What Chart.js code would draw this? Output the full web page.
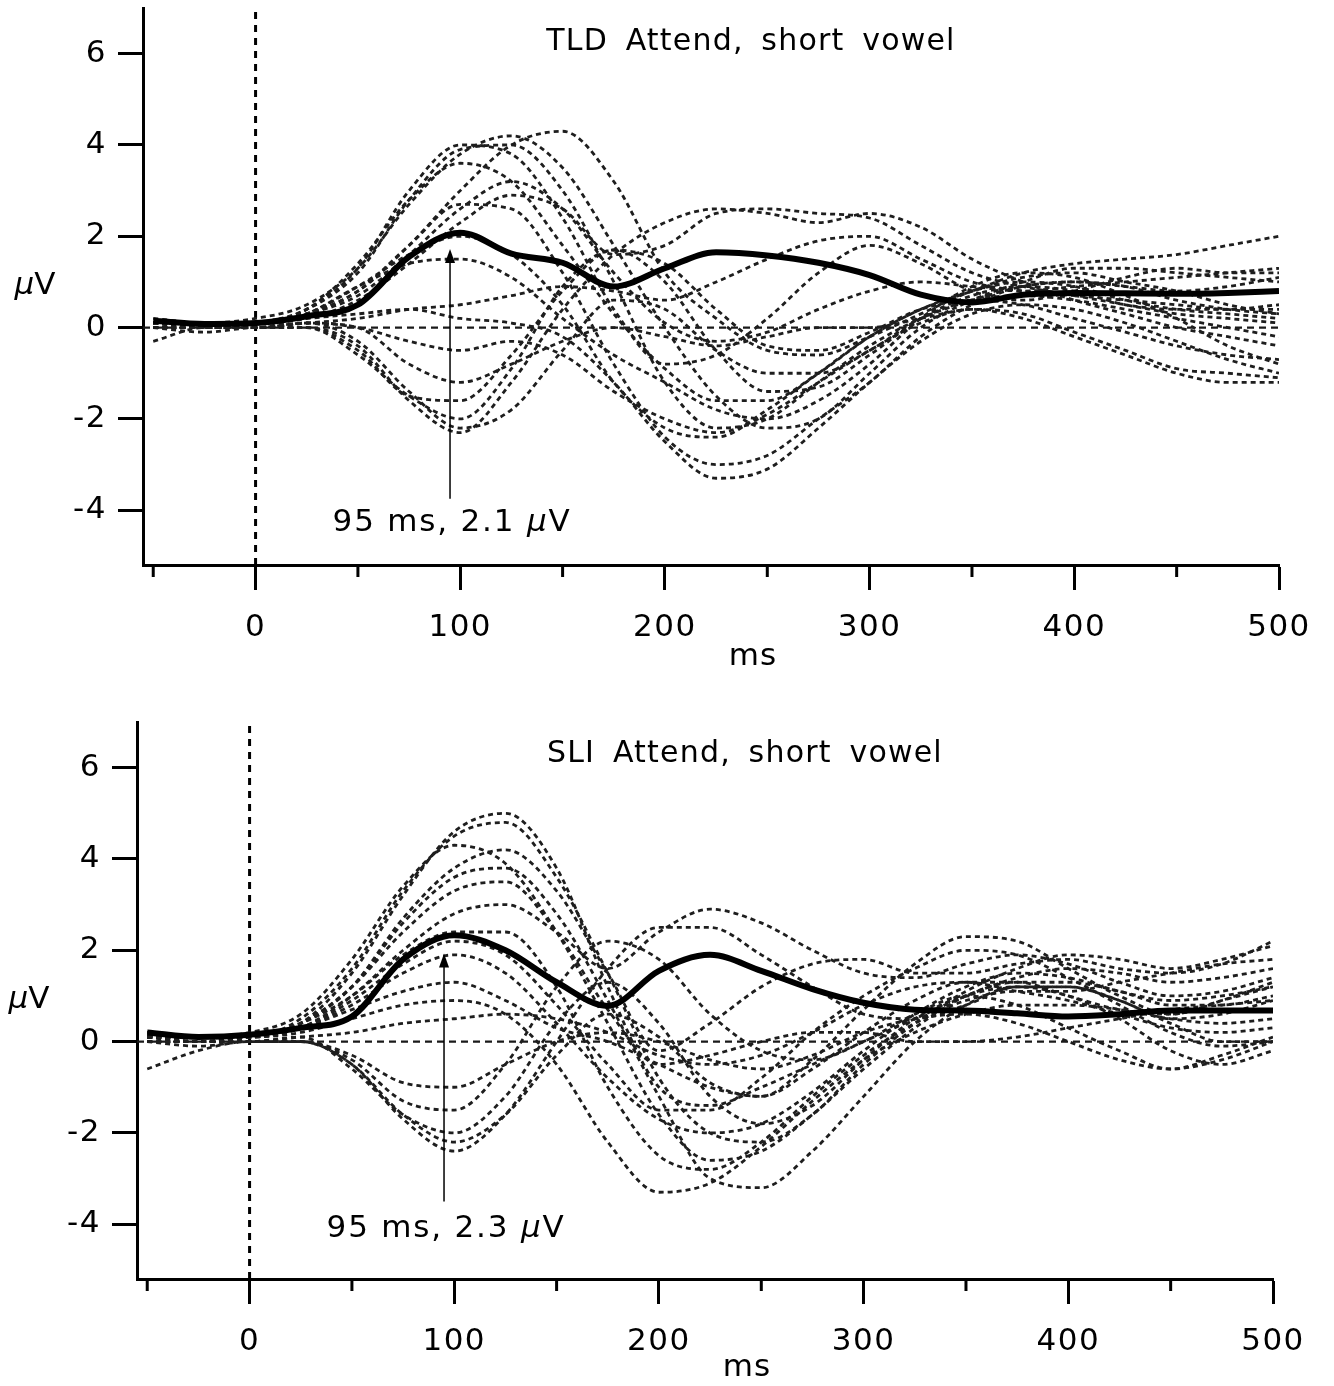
<!DOCTYPE html>
<html><head><meta charset="utf-8">
<script src="https://cdn.jsdelivr.net/npm/chart.js@4"></script>
<style>
html,body{margin:0;padding:0;background:#fff;}
#wrap{position:relative;width:1334px;height:1386px;overflow:hidden;}
canvas{position:absolute;left:0;}
</style></head><body>
<div id="wrap">
<canvas id="c1" width="1334" height="693" style="top:0px"></canvas>
<canvas id="c2" width="1334" height="672" style="top:714px"></canvas>
</div>
<script>
// ---- data ----
const times = [-50,-25,0,25,50,75,100,125,150,175,200,225,250,275,300,325,350,375,400,425,450,475,500];
const xTickValues = [-50,0,50,100,150,200,250,300,350,400,450,500];
const xLabelValues = [0,100,200,300,400,500];
const yTickValues = [-4,-2,0,2,4,6];

const tldMean = [0.15,0.08,0.1,0.25,0.5,1.55,2.08,1.62,1.42,0.9,1.3,1.65,1.58,1.42,1.15,0.72,0.55,0.72,0.76,0.75,0.74,0.76,0.8];
const tldSubjects = [
 [0.1,0.05,0.1,0.4,1.2,2.8,3.9,4.0,3.0,1.0,-1.2,-2.2,-2.0,-1.2,-0.4,0.2,0.6,0.9,1.0,0.9,0.6,0.4,0.3],
 [0.2,0.1,0.1,0.3,0.8,1.8,3.0,4.0,4.3,3.2,1.2,0.2,-0.5,-0.6,-0.2,0.3,0.8,1.1,1.2,1.0,0.8,0.5,0.3],
 [0.1,0.1,0.2,0.5,1.3,2.7,3.8,4.2,3.5,1.8,0.0,-1.5,-2.2,-2.0,-1.0,0.0,0.6,1.0,1.3,1.3,1.2,1.1,1.0],
 [0.0,0.0,0.1,0.4,1.4,2.8,3.6,3.2,1.8,0.3,-0.9,-1.6,-1.6,-1.0,-0.2,0.4,0.8,1.2,1.4,1.5,1.6,1.8,2.0],
 [0.1,0.0,0.1,0.2,0.6,1.4,2.3,2.9,2.6,1.6,1.8,2.5,2.6,2.5,2.4,1.8,1.2,0.9,0.7,0.5,0.3,0.2,0.1],
 [0.0,-0.1,0.0,0.0,-0.4,-1.6,-2.3,-1.2,0.4,1.6,2.3,2.6,2.5,2.3,2.5,2.2,1.5,1.0,0.6,0.3,0.0,-0.2,-0.4],
 [0.0,0.0,0.0,0.1,-0.3,-1.4,-2.2,-1.8,-0.5,0.6,0.4,-0.5,-1.0,-1.0,-0.5,0.2,0.6,0.7,0.6,0.4,0.2,0.0,-0.2],
 [0.1,0.0,0.0,0.0,-0.5,-1.5,-1.6,-0.6,0.8,1.7,1.4,0.4,-0.4,-0.5,-0.1,0.4,0.6,0.5,0.2,-0.1,-0.4,-0.6,-0.7],
 [0.1,0.0,0.1,0.2,0.3,0.4,0.2,0.1,-0.2,-1.2,-2.5,-3.3,-3.1,-2.2,-1.2,-0.3,0.3,0.5,0.4,0.1,-0.3,-0.7,-1.0],
 [0.1,0.1,0.1,0.3,0.8,1.8,2.7,2.6,1.2,-0.8,-2.4,-3.0,-2.8,-2.0,-1.2,-0.2,0.5,0.9,1.0,0.9,0.8,0.9,1.1],
 [0.0,0.0,0.1,0.3,0.9,1.6,2.0,1.6,0.5,-1.2,-2.2,-2.4,-1.8,-1.0,-0.2,0.4,0.8,1.0,0.9,0.6,0.4,0.3,0.2],
 [0.1,0.0,0.0,0.3,0.9,1.4,1.5,1.1,0.2,-0.6,-1.2,-1.8,-2.0,-1.6,-0.8,0.2,0.9,1.2,1.1,0.7,0.2,-0.4,-0.8],
 [0.1,0.1,0.1,0.3,0.7,1.6,2.6,3.2,2.6,1.2,0.1,-0.3,-0.1,0.4,0.8,1.0,0.9,0.8,0.9,1.0,1.1,1.2,1.3],
 [-0.3,0.0,0.0,0.1,0.0,-0.8,-1.2,-0.8,-0.3,0.0,-0.2,-0.4,-0.2,0.0,0.0,0.2,0.4,0.2,-0.2,-0.6,-1.0,-1.2,-1.2],
 [0.0,0.0,0.0,0.0,-0.6,-1.5,-2.0,-0.9,0.9,1.7,1.0,-0.5,-1.4,-1.3,-0.6,0.2,0.7,0.9,0.8,0.5,0.4,0.4,0.5],
 [0.1,0.1,0.1,0.4,1.3,3.0,4.0,3.8,2.4,0.4,-0.8,-0.6,0.2,1.2,1.8,1.4,0.8,0.6,0.8,1.1,1.3,1.2,1.2],
 [0.0,0.0,0.0,0.1,0.2,0.4,0.5,0.7,0.9,0.8,0.6,1.0,1.5,1.9,2.0,1.5,1.0,0.8,0.7,0.6,0.5,0.4,0.4],
 [0.0,0.0,0.0,0.1,0.0,-0.3,-0.5,-0.3,-0.6,-1.4,-2.0,-2.3,-1.9,-1.2,-0.5,0.1,0.4,0.3,-0.1,-0.5,-0.9,-1.0,-1.1]
];

const sliMean = [0.2,0.1,0.15,0.3,0.55,1.8,2.33,2.0,1.3,0.78,1.55,1.9,1.55,1.15,0.85,0.7,0.68,0.62,0.55,0.6,0.68,0.68,0.68];
const sliSubjects = [
 [0.1,0.1,0.1,0.4,1.5,3.2,4.6,5.0,3.8,1.2,-1.0,-1.4,-1.0,-0.5,0.0,0.5,1.0,1.4,1.6,1.5,1.3,1.4,1.6],
 [0.2,0.1,0.1,0.5,1.6,3.3,4.5,4.8,3.6,1.5,-0.8,-2.0,-2.2,-1.6,-0.5,0.4,1.1,1.6,1.9,1.8,1.6,1.8,2.1],
 [0.1,0.1,0.2,0.6,1.8,3.4,4.3,3.9,2.4,0.4,-1.6,-2.6,-2.4,-1.6,-0.6,0.3,1.0,1.3,1.3,1.1,0.8,0.8,1.0],
 [0.1,0.0,0.1,0.4,1.2,2.6,3.6,3.8,2.8,0.9,-1.2,-3.0,-3.2,-2.4,-1.2,0.0,0.8,1.2,1.2,0.9,0.4,0.0,0.0],
 [0.1,0.1,0.1,0.3,1.0,2.0,2.8,3.0,2.4,1.6,2.4,2.9,2.6,2.0,1.5,1.4,1.7,1.9,1.7,1.3,1.0,1.1,1.4],
 [0.0,0.0,0.0,0.0,-0.5,-1.7,-2.4,-1.6,0.0,1.6,2.5,2.5,1.9,1.2,0.6,0.5,0.8,1.2,1.2,0.9,0.5,0.6,0.9],
 [0.0,0.0,0.0,0.1,-0.6,-1.6,-2.0,-1.2,0.4,1.3,0.4,-1.2,-1.8,-1.4,-0.4,0.5,1.0,1.2,1.0,0.5,-0.2,-0.5,-0.2],
 [0.0,0.0,0.0,0.0,-0.4,-1.3,-1.5,-0.5,1.2,2.2,1.8,0.6,-0.2,-0.4,0.0,0.6,1.0,0.8,0.3,-0.2,-0.6,-0.4,0.0],
 [0.1,0.1,0.1,0.2,0.5,0.8,0.9,0.6,-0.5,-2.2,-3.3,-3.1,-2.3,-1.3,-0.4,0.2,0.6,0.8,0.8,0.7,0.5,0.4,0.5],
 [0.1,0.1,0.1,0.4,1.0,1.9,2.4,2.4,1.2,-1.0,-2.5,-2.8,-2.2,-1.2,-0.3,0.4,0.9,1.1,1.1,1.3,1.5,1.7,1.8],
 [0.1,0.0,0.1,0.3,0.8,1.5,1.9,1.5,0.4,-0.8,-1.7,-2.0,-1.8,-1.1,-0.2,0.6,1.2,1.5,1.4,1.1,0.9,1.0,1.2],
 [0.1,0.0,0.1,0.3,0.7,1.1,1.3,0.9,0.3,0.0,-0.5,-1.0,-1.2,-0.4,0.7,1.7,2.3,2.2,1.6,1.0,0.6,0.9,1.3],
 [0.1,0.1,0.1,0.4,1.2,2.4,3.3,3.5,2.4,0.7,-0.5,-0.3,0.0,0.2,0.2,0.0,0.0,0.1,0.3,0.5,0.7,0.8,0.9],
 [0.0,-0.1,0.0,0.0,-0.3,-0.9,-1.0,-0.5,0.0,0.2,0.0,-0.4,-0.6,-0.3,0.2,0.5,0.6,0.4,0.0,-0.4,-0.6,-0.3,0.1],
 [-0.6,-0.2,0.0,0.0,-0.5,-1.6,-2.2,-1.6,-0.3,0.6,0.1,-0.9,-1.2,-0.6,0.2,0.9,1.3,1.3,1.0,0.7,0.6,0.9,1.2],
 [0.2,0.1,0.1,0.4,1.2,2.7,3.8,4.2,3.3,1.5,-0.2,0.4,1.2,1.7,1.8,1.5,1.5,1.7,1.8,1.6,1.5,1.7,2.2],
 [0.0,0.0,0.0,0.1,0.2,0.4,0.5,0.6,0.5,0.2,-0.3,-0.5,-0.3,0.2,0.8,1.2,1.3,1.1,0.9,0.6,0.3,0.2,0.3],
 [0.1,0.0,0.1,0.3,0.9,1.7,2.2,1.9,0.8,-0.5,-1.5,-1.5,-0.8,0.2,1.0,1.6,2.0,1.9,1.4,0.8,0.2,-0.1,0.0]
];

const titles = ['TLD Attend, short vowel', 'SLI Attend, short vowel'];
const peakLatency = [95, 95];
const peakAmp = ['2.1', '2.3'];

// ---- drawing ----
const FONT = 'DejaVu Sans';
const FS = 31;

function drawMixed(ctx, parts, cx, cy, size, spacing) {
  ctx.letterSpacing = spacing + 'px';
  let w = 0;
  const widths = parts.map(p => { ctx.font = (p[1] ? 'italic ' : '') + size + 'px "' + FONT + '"'; const m = ctx.measureText(p[0]).width; w += m; return m; });
  let x = cx - w / 2;
  ctx.textAlign = 'left'; ctx.textBaseline = 'middle';
  parts.forEach((p, i) => { ctx.font = (p[1] ? 'italic ' : '') + size + 'px "' + FONT + '"'; ctx.fillText(p[0], x, cy); x += widths[i]; });
  ctx.letterSpacing = '0px';
}

const decor = {
  id: 'decor',
  beforeDraw(chart) { chart.ctx.letterSpacing = '1.5px'; },
  beforeDatasetsDraw(chart, args, o) {
    const {ctx, chartArea: a, scales: {x, y}} = chart;
    ctx.save();
    ctx.strokeStyle = '#1a1a1a'; ctx.lineWidth = 2.2; ctx.setLineDash([7, 5]);
    const y0 = y.getPixelForValue(0);
    ctx.beginPath(); ctx.moveTo(a.left, y0); ctx.lineTo(a.right, y0); ctx.stroke();
    ctx.strokeStyle = '#000'; ctx.lineWidth = 3; ctx.setLineDash([7, 6]);
    const x0 = x.getPixelForValue(0);
    ctx.beginPath(); ctx.moveTo(x0, a.top + 4); ctx.lineTo(x0, a.bottom); ctx.stroke();
    ctx.restore();
  },
  afterDraw(chart, args, o) {
    const {ctx, chartArea: a, scales: {x, y}} = chart;
    ctx.save();
    ctx.fillStyle = '#000'; ctx.strokeStyle = '#000';
    // minor x ticks
    ctx.lineWidth = 3;
    xTickValues.filter(v => v % 100 !== 0).forEach(v => {
      const px = x.getPixelForValue(v);
      ctx.beginPath(); ctx.moveTo(px, a.bottom); ctx.lineTo(px, a.bottom + 12); ctx.stroke();
    });
    // arrow
    const ax = x.getPixelForValue(o.peak);
    const yb = y.getPixelForValue(o.arrowFrom), yt = y.getPixelForValue(o.arrowTo);
    ctx.lineWidth = 1.5;
    ctx.beginPath(); ctx.moveTo(ax, yb); ctx.lineTo(ax, yt + 10); ctx.stroke();
    ctx.beginPath(); ctx.moveTo(ax, yt); ctx.lineTo(ax - 5, yt + 14); ctx.lineTo(ax + 5, yt + 14); ctx.closePath(); ctx.fill();
    // annotation text
    drawMixed(ctx, [[o.peak + ' ms, ' + o.amp + ' ', false], ['\u00b5', true], ['V', false]], ax + 2, y.getPixelForValue(o.textY), FS, 1.8);
    // title
    ctx.letterSpacing = '1.2px';
    ctx.wordSpacing = '7px';
    ctx.font = '30px "' + FONT + '"'; ctx.textAlign = 'center'; ctx.textBaseline = 'middle';
    ctx.fillText(o.title, x.getPixelForValue(242), y.getPixelForValue(o.titleY));
    ctx.wordSpacing = '0px';
    // x-axis title
    ctx.letterSpacing = '1px';
    ctx.font = FS + 'px "' + FONT + '"';
    ctx.fillText('ms', x.getPixelForValue(243), a.bottom + o.msOffset);
    // y-axis title (horizontal)
    drawMixed(ctx, [['\u00b5', true], ['V', false]], a.left - 108, y.getPixelForValue(0.92), FS, 0);
    ctx.restore();
    ctx.letterSpacing = '0px';
  }
};

function makeChart(id, mean, subjects, o) {
  const datasets = [{
    data: times.map((t, i) => ({x: t, y: mean[i]})),
    borderColor: '#000', borderWidth: 6, order: 0, cubicInterpolationMode: 'monotone'
  }];
  subjects.forEach(s => datasets.push({
    data: times.map((t, i) => ({x: t, y: s[i]})),
    borderColor: '#1e1e1e', borderWidth: 2.8, borderDash: [5, 4], order: 1, cubicInterpolationMode: 'monotone'
  }));
  const tickFont = {family: FONT, size: FS};
  return new Chart(document.getElementById(id), {
    type: 'line',
    data: {datasets},
    options: {
      responsive: false, animation: false, devicePixelRatio: 1,
      layout: {padding: {top: 8, right: o.padRight, left: 0, bottom: 0}},
      elements: {point: {radius: 0}, line: {fill: false}},
      plugins: {legend: {display: false}, tooltip: {enabled: false}, decor: o},
      scales: {
        x: {
          type: 'linear', min: -55, max: 500,
          afterBuildTicks: s => { s.ticks = xTickValues.map(v => ({value: v})); },
          afterFit: s => { s.height = o.xHeight; s.paddingLeft = 0; s.paddingRight = 0; },
          ticks: {autoSkip: false, maxRotation: 0, minRotation: 0, padding: 19, color: '#000', font: tickFont,
            callback: v => xLabelValues.includes(v) ? String(v) : ''},
          grid: {display: true, drawOnChartArea: false, drawTicks: true, tickLength: 25, tickWidth: 3,
            tickColor: c => (c.tick && c.tick.value % 100 === 0) ? '#000' : 'rgba(0,0,0,0)'},
          border: {display: true, color: '#000', width: 3}
        },
        y: {
          type: 'linear', min: -5.2, max: 7,
          afterBuildTicks: s => { s.ticks = yTickValues.map(v => ({value: v})); },
          afterFit: s => { s.width = o.yWidth; s.paddingTop = 0; s.paddingBottom = 0; },
          ticks: {padding: 11, color: '#000', font: tickFont, callback: v => String(v)},
          grid: {display: true, drawOnChartArea: false, drawTicks: true, tickLength: 25, tickWidth: 3, tickColor: '#000'},
          border: {display: true, color: '#000', width: 3}
        }
      }
    },
    plugins: [decor]
  });
}

makeChart('c1', tldMean, tldSubjects, {padRight: 55, yWidth: 143, xHeight: 128, peak: peakLatency[0], amp: peakAmp[0],
  arrowFrom: -3.75, arrowTo: 1.72, textY: -4.28, title: titles[0], titleY: 6.25, msOffset: 92});
makeChart('c2', sliMean, sliSubjects, {padRight: 61, yWidth: 137, xHeight: 107, peak: peakLatency[1], amp: peakAmp[1],
  arrowFrom: -3.5, arrowTo: 1.93, textY: -4.1, title: titles[1], titleY: 6.29, msOffset: 89});
</script>
</body></html>
